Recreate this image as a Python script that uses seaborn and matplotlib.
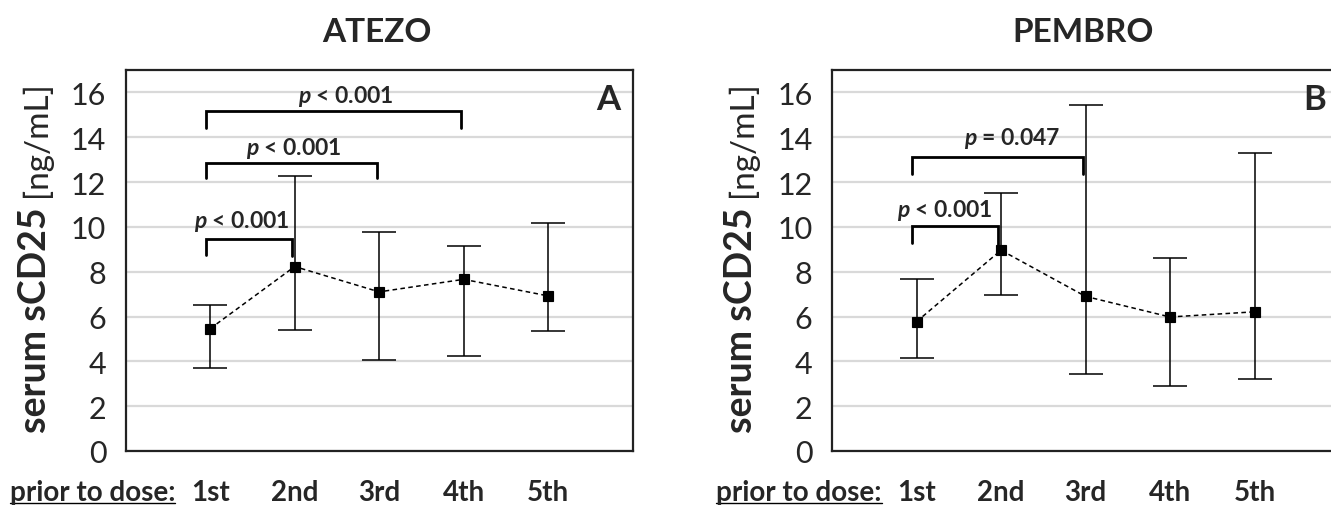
import numpy as np
import matplotlib
matplotlib.use("Agg")
import matplotlib.pyplot as plt
import matplotlib.transforms as mtransforms
import seaborn as sns
from matplotlib.lines import Line2D

# Set style
sns.set_theme(style="white")
plt.rcParams["font.family"] = ["Lato", "DejaVu Sans"]
plt.rcParams["mathtext.fontset"] = "custom"
plt.rcParams["mathtext.it"] = "Lato:italic:bold"
plt.rcParams["mathtext.rm"] = "Lato:bold"

# -------------------------------------------------------------
# Data
# -------------------------------------------------------------
doses = ["1st", "2nd", "3rd", "4th", "5th"]

atezo_mean = [5.46, 8.23, 7.10, 7.66, 6.92]
atezo_upper = [6.50, 12.25, 9.78, 9.14, 10.19]
atezo_lower = [3.72, 5.40, 4.05, 4.24, 5.36]

pembro_mean = [5.77, 8.96, 6.90, 5.98, 6.21]
pembro_upper = [7.66, 11.50, 15.43, 8.59, 13.29]
pembro_lower = [4.17, 6.96, 3.45, 2.89, 3.23]

# brackets: from dose, to dose, bar level, left leg end, right leg end
atezo_brackets = [(0, 3, 15.18, 14.39, 14.39), (0, 2, 12.87, 12.16, 12.16), (0, 1, 9.48, 8.73, 8.70)]
atezo_p_text = ["$p$ < 0.001", "$p$ < 0.001", "$p$ < 0.001"]
atezo_p_x = [1.60, 0.99, 0.37]
atezo_p_y = [15.85, 13.54, 10.27]

pembro_brackets = [(0, 2, 13.14, 12.38, 12.38), (0, 1, 10.05, 9.30, 9.00)]
pembro_p_text = ["$p$ = 0.047", "$p$ < 0.001"]
pembro_p_x = [1.13, 0.34]
pembro_p_y = [13.99, 10.79]

W, H = 1331, 506
fig = plt.figure(figsize=(W / 100, H / 100), dpi=100)

panels = [
    ("ATEZO", "A", 125.7, atezo_mean, atezo_upper, atezo_lower,
     atezo_brackets, atezo_p_text, atezo_p_x, atezo_p_y),
    ("PEMBRO", "B", 832.0, pembro_mean, pembro_upper, pembro_lower,
     pembro_brackets, pembro_p_text, pembro_p_x, pembro_p_y),
]

ax_w, ax_top, ax_bot = 507.0, 71.0, 452.0
label_objs = []
shift = mtransforms.ScaledTranslation(6 / 100, 0, fig.dpi_scale_trans)

for title, letter, left, mean, upper, lower, brackets, ptext, px, py in panels:
    ax = fig.add_axes([left / W, 1 - ax_bot / H, ax_w / W, (ax_bot - ax_top) / H])
    mean = np.array(mean)
    upper = np.array(upper)
    lower = np.array(lower)

    # grid
    ax.set_yticks(np.arange(0, 17, 2))
    ax.yaxis.grid(True, color="#d9d9d9", linewidth=1.6)
    ax.set_axisbelow(True)

    # error bars
    ax.errorbar(np.arange(len(doses)), mean, yerr=[mean - lower, upper - mean],
                fmt="none", ecolor="black", elinewidth=1.1, capsize=12, capthick=1.1, zorder=3)

    # means with dashed connecting line
    sns.pointplot(x=doses, y=mean, ax=ax, color="black", markers="s",
                  linestyles=(0, (3, 2.2)), markersize=7.8, linewidth=1.1, zorder=4)

    # significance brackets
    for (i0, i1, lvl, b0, b1) in brackets:
        ax.plot([i0 - 0.05, i0 - 0.05, i1 - 0.03, i1 - 0.03], [b0, lvl, lvl, b1],
                color="black", linewidth=2.0, solid_joinstyle="miter", zorder=5)
    for t, x, y in zip(ptext, px, py):
        ax.text(x, y, t, ha="center", va="center", fontsize=16.5, fontweight="bold")

    ax.set_xlim(-1, 5)
    ax.set_ylim(0, 17)
    ax.set_xlabel("")
    ax.set_ylabel("")
    ax.set_xticks(range(len(doses)))
    ax.set_xticklabels(doses, fontsize=20, fontweight="bold")
    for lab in ax.get_xticklabels():
        lab.set_transform(lab.get_transform() + shift)
    ax.tick_params(axis="x", length=0, pad=20)
    ax.tick_params(axis="y", length=0, pad=14, labelsize=22)
    for sp in ax.spines.values():
        sp.set_visible(True)
        sp.set_color("#222222")
        sp.set_linewidth(1.6)

    ax.text(0.952, 0.924, letter, transform=ax.transAxes, ha="center", va="center",
            fontsize=25, fontweight="bold")

    fig.text((left + ax_w / 2 - 2) / W, 1 - 33 / H, title, ha="center", va="center",
             fontsize=24, fontweight="bold")

    # y label: bold part + regular unit part on a shared baseline
    base_x = (left - 80) / W
    t1 = fig.text(base_x, 1 - 433 / H, "serum sCD25", rotation=90, rotation_mode="anchor",
                  ha="left", va="baseline", fontsize=27, fontweight="bold")
    # "prior to dose:" label under the axis
    t3 = fig.text((left - 116) / W, 1 - 501 / H, "prior to dose:", ha="left", va="baseline",
                  fontsize=20, fontweight="bold")
    label_objs.append((base_x, t1, t3))

fig.canvas.draw()
renderer = fig.canvas.get_renderer()
for base_x, t1, t3 in label_objs:
    bb = t1.get_window_extent(renderer)
    y_end = (bb.y1 + 10) / H
    fig.text(base_x, y_end, "[ng/mL]", rotation=90, rotation_mode="anchor",
             ha="left", va="baseline", fontsize=24)
    bb3 = t3.get_window_extent(renderer)
    fig.add_artist(Line2D([bb3.x0 / W, bb3.x1 / W], [2.5 / H, 2.5 / H],
                          color="black", linewidth=1.0))

fig.savefig("out.png", dpi=100)
